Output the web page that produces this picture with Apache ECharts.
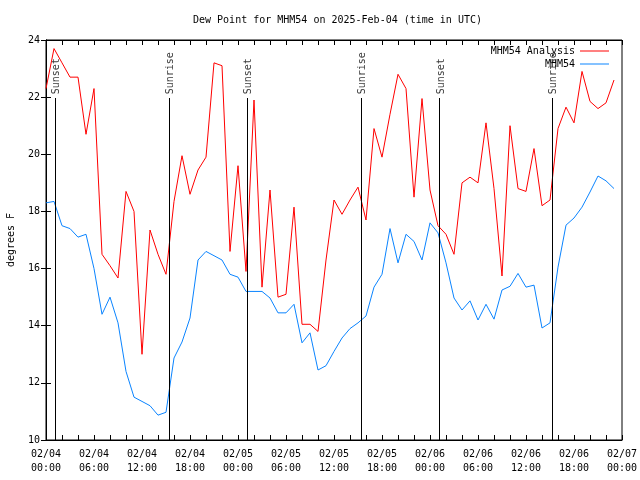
<!DOCTYPE html>
<html>
<head>
<meta charset="utf-8">
<script src="https://cdn.jsdelivr.net/npm/echarts@6/dist/echarts.min.js"></script>
<style>html,body{margin:0;padding:0;background:#fff}#c{width:640px;height:480px}</style>
</head>
<body>
<div id="c"></div>
<script>
// hours since 2025-02-04 00:00 UTC
var hours = [0,1,2,3,4,5,6,7,8,9,10,11,12,13,14,15,16,17,18,19,20,21,22,23,24,25,26,27,28,29,30,31,32,33,34,35,
  36,37,38,39,40,41,42,43,44,45,46,47,48,49,50,51,52,53,54,55,56,57,58,59,60,61,62,63,64,65,66,67,68,69,70,71];
var analysis = [22.3,23.7,23.2,22.7,22.7,20.7,22.3,16.5,16.1,15.67,18.7,18.0,13.0,17.35,16.5,15.8,18.35,19.95,18.6,19.45,
  19.9,23.2,23.1,16.6,19.6,15.9,21.9,15.35,18.75,15.0,15.1,18.15,14.05,14.05,13.8,16.3,18.4,17.9,18.4,18.85,
  17.7,20.9,19.9,21.4,22.8,22.3,18.5,21.95,18.75,17.5,17.2,16.5,19.0,19.2,19.0,21.1,18.8,15.74,21.0,18.8,
  18.7,20.2,18.2,18.4,20.9,21.65,21.1,22.9,21.85,21.6,21.8,22.6];
var station = [18.3,18.35,17.5,17.4,17.1,17.2,16.0,14.4,15.0,14.1,12.4,11.5,11.35,11.2,10.87,10.97,12.87,13.43,14.27,16.3,
  16.6,16.45,16.3,15.8,15.7,15.2,15.2,15.2,14.97,14.45,14.45,14.75,13.4,13.75,12.45,12.6,13.1,13.57,13.9,14.1,
  14.34,15.35,15.8,17.4,16.2,17.2,16.95,16.3,17.6,17.25,16.2,14.97,14.55,14.87,14.2,14.75,14.23,15.25,15.38,15.83,
  15.35,15.42,13.92,14.1,16.05,17.52,17.77,18.15,18.68,19.24,19.07,18.8];
var eventHours = [1.1, 15.4, 25.15, 39.4, 49.2, 63.3];
var eventNames = ['Sunset','Sunrise','Sunset','Sunrise','Sunset','Sunrise'];
var xTickLabels = ['02/04\n00:00','02/04\n06:00','02/04\n12:00','02/04\n18:00','02/05\n00:00','02/05\n06:00',
  '02/05\n12:00','02/05\n18:00','02/06\n00:00','02/06\n06:00','02/06\n12:00','02/06\n18:00','02/07\n00:00'];
var yTickLabels = ['10','12','14','16','18','20','22','24'];

var FONT = 'DejaVu Sans Mono';
var LINE_ICON = 'path://M0,0 L0,0 M0,4.5 L29,4.5 L29,5.5 L0,5.5 Z M29,10 L29,10';
function pairs(vals){ return hours.map(function(h,i){ return [h, vals[i]]; }); }

var chart = echarts.init(document.getElementById('c'), null, {renderer:'canvas'});
var axisCommon = {
  axisLine:{show:true, lineStyle:{color:'#000', width:1}},
  axisTick:{show:true, inside:true, length:5, lineStyle:{color:'#000'}},
  splitLine:{show:false}
};
chart.setOption({
  animation:false,
  backgroundColor:'#fff',
  textStyle:{fontFamily:FONT},
  title:{text:'Dew Point for MHM54 on 2025-Feb-04 (time in UTC)', left:188, top:10,
    textStyle:{fontFamily:FONT, fontSize:10, fontWeight:'normal', color:'#000'}},
  legend:{
    data:[{name:'MHM54 Analysis', icon:LINE_ICON},{name:'MHM54', icon:LINE_ICON}],
    orient:'vertical', align:'right', right:26, top:41,
    itemWidth:29, itemHeight:10, itemGap:3,
    textStyle:{fontFamily:FONT, fontSize:10, color:'#000'}
  },
  grid:{left:46, right:18, top:40, bottom:40, show:true, borderColor:'#000', borderWidth:1,
    containLabel:false, outerBoundsMode:'none'},
  xAxis:[
    Object.assign({type:'value', min:0, max:72, interval:2, position:'bottom',
      axisLabel:{fontFamily:FONT, fontSize:10, color:'#000', margin:7, lineHeight:14,
        formatter:function(v){ return v % 6 === 0 ? xTickLabels[v/6] : ''; }}}, axisCommon),
    Object.assign({type:'value', min:0, max:72, interval:2, position:'top', axisLabel:{show:false}}, axisCommon)
  ],
  yAxis:[
    Object.assign({type:'value', min:10, max:24, interval:2, position:'left',
      name:'degrees F', nameLocation:'middle', nameGap:30,
      nameTextStyle:{fontFamily:FONT, fontSize:10, color:'#000'},
      axisLabel:{fontFamily:FONT, fontSize:10, color:'#000', margin:6,
        formatter:function(v){ return yTickLabels[(v-10)/2]; }}}, axisCommon),
    Object.assign({type:'value', min:10, max:24, interval:2, position:'right', axisLabel:{show:false}}, axisCommon)
  ],
  series:[
    {
      name:'events', type:'scatter', symbolSize:0, silent:true, z:1,
      data:eventHours.map(function(h,i){ return {name:eventNames[i], value:[h, 22.1]}; }),
      label:{show:true, formatter:'{b}', rotate:90, position:[1.5,0], align:'left', verticalAlign:'middle',
        fontFamily:FONT, fontSize:10, color:'#000'},
      markLine:{silent:true, symbol:'none', label:{show:false}, lineStyle:{color:'#000', width:1, type:'solid'},
        data:eventHours.map(function(h){ return [{coord:[h,10]},{coord:[h,21.97]}]; })}
    },
    {name:'MHM54 Analysis', type:'line', data:pairs(analysis), symbol:'none', z:3,
      lineStyle:{color:'#ff0000', width:1}, itemStyle:{color:'#ff0000'}},
    {name:'MHM54', type:'line', data:pairs(station), symbol:'none', z:3,
      lineStyle:{color:'#0a84ff', width:1}, itemStyle:{color:'#0a84ff'}}
  ]
});
</script>
</body>
</html>
